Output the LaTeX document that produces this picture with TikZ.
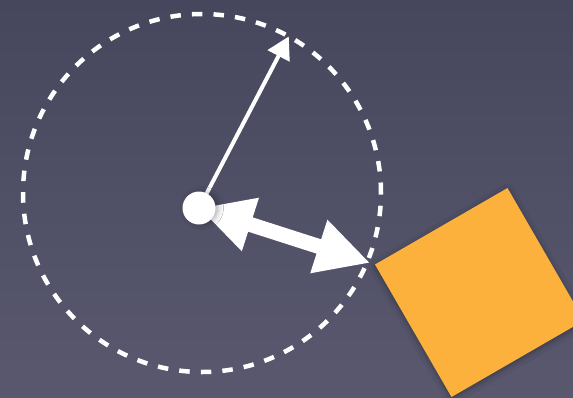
\documentclass[tikz,border=0pt]{standalone}
\usepackage{xcolor}
\usepackage{tikz}
\usetikzlibrary{arrows.meta, shadows.blur}
\definecolor{bgTop}{HTML}{46475D}
\definecolor{bgBot}{HTML}{59586F}
\definecolor{tileOrange}{HTML}{FBB13B}

\begin{document}
\begin{tikzpicture}[
  x=1pt, y=-1pt,
  ring/.style={circle, draw=white, line width=4.5pt, dash pattern=on 10.5pt off 11.1pt,
               minimum size=358pt, inner sep=0pt, outer sep=0pt},
  hub/.style={circle, fill=white, minimum size=33pt, inner sep=0pt,
              blur shadow={shadow xshift=3pt, shadow yshift=0pt, shadow blur radius=5pt,
                           shadow opacity=30}},
  tile/.style={rectangle, fill=tileOrange, minimum size=153pt, inner sep=0pt, outer sep=0pt,
               rotate=30,
               blur shadow={shadow xshift=0pt, shadow yshift=-2pt, shadow blur radius=6pt,
                            shadow opacity=35}},
  ar/.style={-{Triangle[length=22pt, width=24pt]}, draw=white, line width=4pt},
  dar/.style={{Triangle[length=54pt, width=52pt]}-{Triangle[length=54pt, width=52pt]},
              draw=white, line width=15pt}
]
\clip (0,0) rectangle (573,397);
\shade[top color=bgTop, bottom color=bgBot] (0,0) rectangle (573,397);

\node[ring] (ring) at (202,193) {};
\coordinate (hc) at (199,208);
\node[tile] (tile) at (479.5,292.5) {};

\draw[ar] (hc) -- (ring.61);
\draw[dar, shorten >=5pt] (hc) -- (tile.north west);
\node[hub] (hub) at (hc) {};
\end{tikzpicture}
\end{document}
